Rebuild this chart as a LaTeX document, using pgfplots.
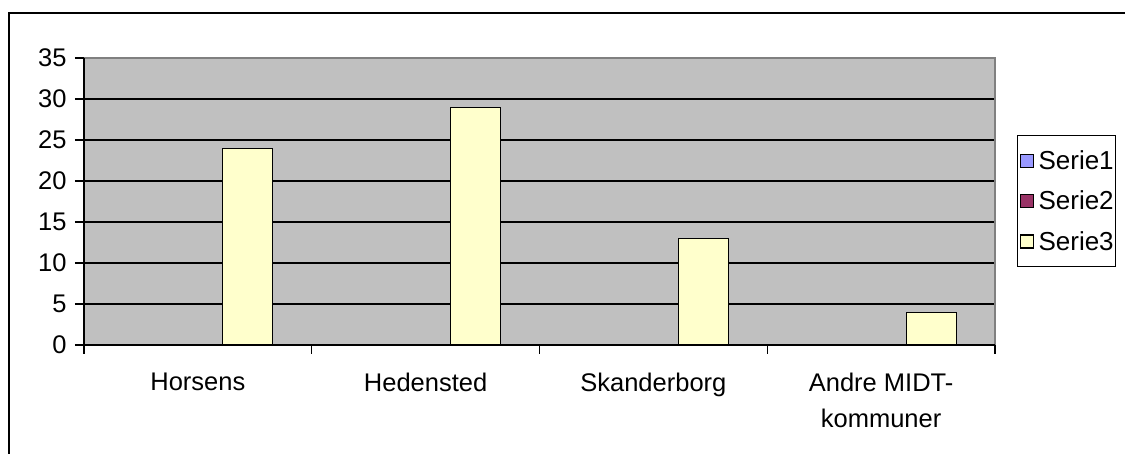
\documentclass[border=0pt]{standalone}
\usepackage{fontspec}
\setmainfont{Liberation Sans}
\usepackage{pgfplots}
\usepackage{pgfplotstable}
\pgfplotsset{compat=1.18}
\definecolor{sA}{HTML}{9999FF}
\definecolor{sB}{HTML}{993366}
\definecolor{sC}{HTML}{FFFFCC}
\definecolor{bg}{HTML}{C0C0C0}
\definecolor{brd}{HTML}{808080}
\pgfplotsset{sqlegend/.style={legend image code/.code={\path[draw=none,fill=none] (0pt,0pt) -- (19pt,0pt); \draw[##1,draw=black,line width=1.2pt] (3pt,-6.5pt) rectangle (16pt,6.5pt);}}}
\pgfplotstableread{
x s1 s2 s3
0 0 0 24
1 0 0 29
2 0 0 13
3 0 0 4
}\data
\begin{document}
\begin{tikzpicture}
\useasboundingbox (0pt,0pt) rectangle (1125pt,454pt);
\clip (0pt,0pt) rectangle (1125pt,454pt);
\fill[white] (0pt,0pt) rectangle (1125pt,454pt);
\draw[line width=2pt] (9pt,-20pt) -- (9pt,441pt) -- (1200pt,441pt);
\begin{axis}[
  at={(84pt,109pt)}, anchor=south west,
  scale only axis, width=911pt, height=287pt,
  clip=false,
  xmin=-0.5, xmax=3.5, ymin=0, ymax=35,
  ytick={0,5,...,35},
  xtick={0,1,2,3},
  xticklabels={Horsens,Hedensted,Skanderborg,{Andre MIDT-\\kommuner}},
  xtick pos=bottom, ytick pos=left,
  tick align=outside,
  major tick length=9pt,
  x tick style={draw=none},
  y tick style={black, line width=1.2pt},
  extra x ticks={-0.5,0.5,1.5,2.5,3.5},
  extra x tick labels={},
  extra x tick style={x tick style={draw=black, line width=1.2pt}},
  axis line style={draw=none},
  axis background/.style={fill=bg},
  ymajorgrids,
  major grid style={black, line width=1.2pt},
  /pgf/number format/assume math mode=true,
  tick label style={font=\fontsize{25.5}{36}\selectfont},
  xticklabel style={align=center, yshift=-15pt},
  yticklabel style={xshift=-5pt},
  legend style={at={(1.0241,0.7317)}, anchor=north west, draw=black, line width=1.2pt, fill=white,
    font=\fontsize{26}{30}\selectfont, row sep=16pt, inner xsep=0pt, inner ysep=13pt},
  legend cell align=left,
]
\addlegendimage{fill=sA, sqlegend}
\addlegendentry{Serie1}
\addlegendimage{fill=sB, sqlegend}
\addlegendentry{Serie2}
\addplot[ybar, bar width=50pt, bar shift=50pt, fill=sC, draw=black, line width=1.2pt, sqlegend] table[x=x,y=s3]{\data};
\addlegendentry{Serie3}
\draw[brd, line width=1.2pt] (rel axis cs:0,1) -- (rel axis cs:1,1) -- (rel axis cs:1,0);
\draw[black, line width=1.2pt] (rel axis cs:0,1) -- (rel axis cs:0,0) -- (rel axis cs:1,0);
\end{axis}
\end{tikzpicture}
\end{document}
